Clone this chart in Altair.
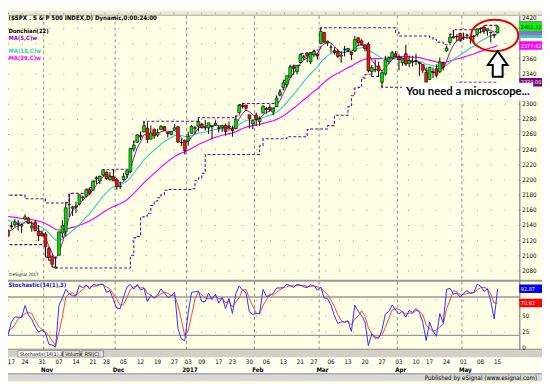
import altair as alt
import pandas as pd

# ---------------- data ----------------
trade_dates = [
    "2016-08-19", "2016-08-22", "2016-08-23", "2016-08-24", "2016-08-25", "2016-08-26", "2016-08-29", "2016-08-30", "2016-08-31",
    "2016-09-01", "2016-09-02", "2016-09-06", "2016-09-07", "2016-09-08", "2016-09-09", "2016-09-12", "2016-09-13", "2016-09-14",
    "2016-09-15", "2016-09-16", "2016-09-19", "2016-09-20", "2016-09-21", "2016-09-22", "2016-09-23", "2016-09-26", "2016-09-27",
    "2016-09-28", "2016-09-29", "2016-09-30", "2016-10-03", "2016-10-04", "2016-10-05", "2016-10-06", "2016-10-07", "2016-10-10",
    "2016-10-11", "2016-10-12", "2016-10-13", "2016-10-14", "2016-10-17", "2016-10-18", "2016-10-19", "2016-10-20", "2016-10-21",
    "2016-10-24", "2016-10-25", "2016-10-26", "2016-10-27", "2016-10-28", "2016-10-31", "2016-11-01", "2016-11-02", "2016-11-03",
    "2016-11-04", "2016-11-07", "2016-11-08", "2016-11-09", "2016-11-10", "2016-11-11", "2016-11-14", "2016-11-15", "2016-11-16",
    "2016-11-17", "2016-11-18", "2016-11-21", "2016-11-22", "2016-11-23", "2016-11-25", "2016-11-28", "2016-11-29", "2016-11-30",
    "2016-12-01", "2016-12-02", "2016-12-05", "2016-12-06", "2016-12-07", "2016-12-08", "2016-12-09", "2016-12-12", "2016-12-13",
    "2016-12-14", "2016-12-15", "2016-12-16", "2016-12-19", "2016-12-20", "2016-12-21", "2016-12-22", "2016-12-23", "2016-12-27",
    "2016-12-28", "2016-12-29", "2016-12-30", "2017-01-03", "2017-01-04", "2017-01-05", "2017-01-06", "2017-01-09", "2017-01-10",
    "2017-01-11", "2017-01-12", "2017-01-13", "2017-01-17", "2017-01-18", "2017-01-19", "2017-01-20", "2017-01-23", "2017-01-24",
    "2017-01-25", "2017-01-26", "2017-01-27", "2017-01-30", "2017-01-31", "2017-02-01", "2017-02-02", "2017-02-03", "2017-02-06",
    "2017-02-07", "2017-02-08", "2017-02-09", "2017-02-10", "2017-02-13", "2017-02-14", "2017-02-15", "2017-02-16", "2017-02-17",
    "2017-02-21", "2017-02-22", "2017-02-23", "2017-02-24", "2017-02-27", "2017-02-28", "2017-03-01", "2017-03-02", "2017-03-03",
    "2017-03-06", "2017-03-07", "2017-03-08", "2017-03-09", "2017-03-10", "2017-03-13", "2017-03-14", "2017-03-15", "2017-03-16",
    "2017-03-17", "2017-03-20", "2017-03-21", "2017-03-22", "2017-03-23", "2017-03-24", "2017-03-27", "2017-03-28", "2017-03-29",
    "2017-03-30", "2017-03-31", "2017-04-03", "2017-04-04", "2017-04-05", "2017-04-06", "2017-04-07", "2017-04-10", "2017-04-11",
    "2017-04-12", "2017-04-13", "2017-04-17", "2017-04-18", "2017-04-19", "2017-04-20", "2017-04-21", "2017-04-24", "2017-04-25",
    "2017-04-26", "2017-04-27", "2017-04-28", "2017-05-01", "2017-05-02", "2017-05-03", "2017-05-04", "2017-05-05", "2017-05-08",
    "2017-05-09", "2017-05-10", "2017-05-11", "2017-05-12", "2017-05-15",
]
opens = [
    2180.5, 2181.6, 2187.8, 2185.1, 2173.3, 2175.1, 2170.2, 2179.5, 2173.6,
    2171.3, 2177.5, 2181.6, 2185.2, 2182.8, 2169.1, 2120.9, 2146.0, 2127.9,
    2125.4, 2146.5, 2143.9, 2145.9, 2144.6, 2170.9, 2173.3, 2158.5, 2146.0,
    2161.9, 2168.9, 2156.5, 2164.3, 2163.4, 2155.2, 2158.2, 2164.2, 2160.4,
    2161.4, 2137.7, 2130.3, 2139.7, 2132.9, 2138.3, 2140.8, 2142.5, 2139.4,
    2148.5, 2149.7, 2136.9, 2144.1, 2132.2, 2129.8, 2128.7, 2109.4, 2098.8,
    2083.8, 2100.6, 2129.9, 2131.6, 2167.5, 2162.7, 2165.6, 2168.3, 2177.5,
    2178.6, 2186.9, 2186.4, 2201.6, 2198.6, 2206.3, 2210.2, 2200.8, 2204.3,
    2200.2, 2191.1, 2200.6, 2207.3, 2210.7, 2241.1, 2249.7, 2258.8, 2263.3,
    2268.4, 2253.8, 2266.8, 2259.2, 2266.5, 2270.5, 2262.9, 2260.3, 2266.2,
    2270.2, 2249.5, 2251.6, 2251.6, 2261.6, 2268.2, 2271.1, 2273.6, 2269.0,
    2268.6, 2271.1, 2272.7, 2269.1, 2269.1, 2271.9, 2270.0, 2267.8, 2267.9,
    2288.9, 2298.6, 2299.0, 2286.0, 2274.0, 2285.6, 2276.7, 2288.5, 2294.3,
    2295.9, 2289.6, 2296.7, 2312.3, 2321.7, 2326.1, 2335.6, 2349.6, 2343.0,
    2354.9, 2361.1, 2367.5, 2355.7, 2365.2, 2366.1, 2380.1, 2394.8, 2380.9,
    2375.2, 2370.7, 2369.8, 2363.5, 2372.5, 2371.6, 2368.6, 2370.3, 2387.7,
    2383.7, 2378.2, 2379.3, 2343.0, 2345.1, 2350.4, 2329.1, 2339.8, 2356.5,
    2361.3, 2366.6, 2362.3, 2354.8, 2366.6, 2353.8, 2356.6, 2357.2, 2355.0,
    2352.2, 2342.0, 2332.6, 2342.5, 2346.8, 2342.7, 2354.7, 2370.3, 2381.5,
    2389.0, 2389.7, 2393.7, 2388.5, 2391.1, 2386.5, 2389.8, 2392.4, 2399.9,
    2401.6, 2396.8, 2394.8, 2392.4, 2394.0,
]
highs = [
    2185.0, 2185.2, 2193.4, 2186.7, 2179.0, 2187.9, 2183.5, 2182.3, 2173.8,
    2173.6, 2184.9, 2186.6, 2187.9, 2184.9, 2169.1, 2163.3, 2146.0, 2141.3,
    2151.3, 2146.5, 2153.6, 2150.8, 2165.1, 2180.0, 2173.8, 2158.5, 2161.1,
    2172.4, 2172.7, 2175.3, 2164.3, 2165.5, 2163.9, 2162.9, 2165.9, 2169.6,
    2161.6, 2145.4, 2138.2, 2149.2, 2135.6, 2144.4, 2148.4, 2147.2, 2142.6,
    2154.8, 2151.4, 2145.7, 2147.1, 2140.7, 2133.3, 2131.5, 2111.8, 2102.6,
    2099.1, 2132.0, 2146.9, 2170.1, 2182.3, 2165.9, 2171.4, 2180.8, 2179.2,
    2188.1, 2189.9, 2198.7, 2204.8, 2204.7, 2213.4, 2211.1, 2210.5, 2214.1,
    2202.6, 2197.9, 2209.4, 2212.8, 2241.6, 2251.7, 2259.8, 2264.0, 2277.5,
    2276.2, 2272.1, 2268.1, 2267.5, 2272.6, 2271.2, 2263.2, 2263.8, 2273.8,
    2271.3, 2254.5, 2253.6, 2263.9, 2272.8, 2271.5, 2282.1, 2275.5, 2279.3,
    2275.3, 2271.8, 2278.7, 2272.1, 2272.0, 2274.3, 2277.0, 2271.8, 2284.6,
    2299.6, 2301.0, 2299.0, 2286.0, 2279.1, 2289.1, 2284.0, 2298.3, 2296.2,
    2299.4, 2295.9, 2311.1, 2319.2, 2331.6, 2337.6, 2351.3, 2351.3, 2351.2,
    2366.7, 2365.1, 2368.3, 2367.3, 2371.5, 2367.8, 2401.0, 2394.8, 2383.9,
    2378.8, 2375.1, 2373.1, 2369.1, 2376.9, 2374.4, 2368.6, 2390.0, 2388.1,
    2385.7, 2379.0, 2381.9, 2351.8, 2358.9, 2356.2, 2344.9, 2363.8, 2363.4,
    2370.4, 2370.3, 2365.9, 2360.5, 2378.4, 2364.2, 2363.8, 2366.4, 2355.2,
    2352.7, 2348.3, 2349.1, 2348.4, 2352.6, 2361.4, 2356.2, 2377.0, 2392.5,
    2398.2, 2392.1, 2393.7, 2394.5, 2392.9, 2389.8, 2391.4, 2399.3, 2401.4,
    2404.0, 2399.7, 2395.7, 2392.4, 2404.05,
]
lows = [
    2175.1, 2175.9, 2186.8, 2171.3, 2169.7, 2160.4, 2170.2, 2170.4, 2161.4,
    2157.1, 2173.6, 2175.1, 2179.1, 2177.9, 2127.8, 2119.1, 2119.9, 2119.6,
    2122.4, 2131.2, 2135.9, 2139.2, 2139.6, 2170.9, 2163.0, 2145.0, 2141.6,
    2151.8, 2145.2, 2156.5, 2154.8, 2144.0, 2155.2, 2150.3, 2144.9, 2160.4,
    2128.8, 2132.8, 2114.7, 2132.7, 2124.4, 2135.5, 2138.2, 2133.4, 2130.1,
    2146.9, 2141.9, 2131.6, 2132.5, 2119.4, 2125.5, 2097.9, 2094.0, 2085.2,
    2083.8, 2100.6, 2123.6, 2125.4, 2151.2, 2152.5, 2156.1, 2166.4, 2172.2,
    2176.6, 2180.4, 2186.4, 2194.5, 2194.5, 2206.3, 2200.4, 2199.0, 2198.8,
    2187.4, 2188.4, 2199.0, 2202.5, 2208.9, 2237.6, 2249.2, 2252.4, 2263.3,
    2248.4, 2253.8, 2254.2, 2256.8, 2266.5, 2265.2, 2256.1, 2258.8, 2266.2,
    2249.1, 2244.6, 2233.6, 2245.1, 2261.6, 2260.5, 2264.1, 2268.0, 2265.3,
    2260.8, 2254.3, 2271.5, 2262.8, 2263.4, 2258.4, 2265.0, 2257.0, 2266.7,
    2288.9, 2294.1, 2291.6, 2268.0, 2267.2, 2271.7, 2271.7, 2287.9, 2287.6,
    2290.2, 2285.4, 2296.6, 2311.1, 2321.4, 2322.2, 2334.8, 2338.9, 2339.6,
    2354.9, 2358.3, 2355.1, 2352.9, 2361.9, 2359.0, 2380.1, 2380.2, 2376.9,
    2368.0, 2365.5, 2361.0, 2354.5, 2363.0, 2368.5, 2358.2, 2368.9, 2377.2,
    2377.6, 2369.7, 2341.9, 2336.5, 2342.1, 2335.7, 2322.3, 2337.6, 2353.3,
    2358.6, 2362.6, 2344.7, 2350.7, 2350.5, 2348.9, 2349.7, 2351.5, 2337.3,
    2341.2, 2329.0, 2332.5, 2334.5, 2335.1, 2340.9, 2344.5, 2369.2, 2381.2,
    2386.8, 2382.7, 2382.4, 2384.8, 2385.8, 2379.8, 2380.3, 2389.2, 2393.4,
    2392.8, 2390.4, 2381.7, 2387.2, 2394.0,
]
closes = [
    2183.9, 2182.6, 2186.9, 2175.4, 2172.5, 2169.0, 2180.4, 2176.1, 2171.0,
    2170.9, 2180.0, 2186.5, 2186.2, 2181.3, 2127.8, 2159.0, 2127.0, 2125.8,
    2147.3, 2139.2, 2139.1, 2139.8, 2163.1, 2177.2, 2164.7, 2146.1, 2159.9,
    2171.4, 2151.1, 2168.3, 2161.2, 2150.5, 2159.7, 2160.8, 2153.7, 2163.7,
    2136.7, 2139.2, 2132.6, 2133.0, 2126.5, 2139.6, 2144.3, 2141.3, 2141.2,
    2151.3, 2143.2, 2139.4, 2133.0, 2126.4, 2126.2, 2111.7, 2097.9, 2088.7,
    2085.2, 2131.5, 2139.6, 2163.3, 2167.5, 2164.5, 2164.2, 2180.4, 2176.9,
    2187.1, 2181.9, 2198.2, 2202.9, 2204.7, 2213.4, 2201.7, 2204.7, 2198.8,
    2191.1, 2192.0, 2204.7, 2212.2, 2241.4, 2246.2, 2259.5, 2257.0, 2271.7,
    2253.3, 2262.0, 2258.1, 2262.5, 2270.8, 2265.2, 2261.0, 2263.8, 2268.9,
    2249.9, 2249.3, 2238.8, 2257.8, 2270.8, 2269.0, 2277.0, 2268.9, 2268.9,
    2275.3, 2270.4, 2274.6, 2267.9, 2271.9, 2263.7, 2271.3, 2265.2, 2280.1,
    2298.4, 2296.7, 2294.7, 2280.9, 2278.9, 2279.6, 2280.9, 2297.4, 2292.6,
    2293.1, 2294.7, 2307.9, 2316.1, 2328.3, 2337.6, 2349.3, 2347.2, 2351.2,
    2365.4, 2362.8, 2363.8, 2367.3, 2369.8, 2363.6, 2396.0, 2381.9, 2383.1,
    2375.3, 2368.4, 2363.0, 2364.9, 2372.6, 2373.5, 2365.5, 2385.3, 2381.4,
    2378.3, 2373.5, 2344.0, 2348.5, 2346.0, 2344.0, 2341.6, 2358.6, 2361.1,
    2368.1, 2362.7, 2358.8, 2360.2, 2353.0, 2357.5, 2355.5, 2357.2, 2353.8,
    2344.9, 2329.0, 2349.0, 2342.2, 2338.2, 2355.8, 2348.7, 2374.2, 2388.6,
    2387.5, 2388.8, 2384.2, 2388.3, 2391.2, 2388.1, 2389.5, 2399.3, 2399.4,
    2396.9, 2399.6, 2394.66, 2390.9, 2402.32,
]

tick_dates = [
    "2016-10-17", "2016-10-24", "2016-10-31", "2016-11-07", "2016-11-14", "2016-11-21", "2016-11-28",
    "2016-12-05", "2016-12-12", "2016-12-19", "2016-12-27", "2017-01-03", "2017-01-09", "2017-01-17",
    "2017-01-23", "2017-01-30", "2017-02-06", "2017-02-13", "2017-02-21", "2017-02-27", "2017-03-06",
    "2017-03-13", "2017-03-20", "2017-03-27", "2017-04-03", "2017-04-10", "2017-04-17", "2017-04-24",
    "2017-05-01", "2017-05-08", "2017-05-15",
]
tick_labels = ["17", "24", "31", "07", "14", "21", "28", "05", "12", "19", "27", "03", "09", "17", "23", "30",
               "06", "13", "21", "27", "06", "13", "20", "27", "03", "10", "17", "24", "01", "08", "15"]
month_dates = ["2016-11-01", "2016-12-01", "2017-01-03", "2017-02-01", "2017-03-01", "2017-04-03", "2017-05-01"]
month_labels = ["Nov", "Dec", "2017", "Feb", "Mar", "Apr", "May"]
# price labels visible on the right axis (2400, 2380 and 2320 sit under the value boxes)
price_ticks = [2080, 2100, 2120, 2140, 2160, 2180, 2200, 2220, 2240, 2260, 2280, 2300,
               2340, 2360, 2420]
price_grid = [2080, 2100, 2120, 2140, 2160, 2180, 2200, 2220, 2240, 2260, 2280, 2300,
              2320, 2340, 2360, 2380, 2400, 2420]
stoch_ticks = [50, 25, 0]
stoch_grid = [75, 50, 25]
stoch_levels = [80, 20]

# ---------------- layout constants ----------------
W, H = 542, 376
X_DOM = [0, 157.06]
P_DOM = [1934.4, 2423.3]
S_DOM = [-51.5, 526.9]
FONT = "Liberation Sans Narrow, DejaVu Sans Condensed, Liberation Sans"
BG = "#FFFFE6"

first = trade_dates.index("2016-10-17")
last_idx = len(trade_dates) - 1 - first

df = pd.DataFrame({"O": opens, "H": highs, "L": lows, "C": closes})
df["idx"] = [i - first for i in range(len(trade_dates))]


def XQ(f):
    return alt.X(f, type="quantitative", axis=None,
                 scale=alt.Scale(domain=X_DOM, nice=False, zero=False))


def PY(f):
    return alt.Y(f, type="quantitative", axis=None,
                 scale=alt.Scale(domain=P_DOM, nice=False, zero=False))


def SY(f):
    return alt.Y(f, type="quantitative", axis=None,
                 scale=alt.Scale(domain=S_DOM, nice=False, zero=False))


one = alt.Chart(pd.DataFrame({"a": [0]}))


def box(x1, x2, y1, y2, color, **kw):
    return one.mark_rect(color=color, **kw).encode(
        x=alt.value(x1), x2=alt.value(x2), y=alt.value(y1), y2=alt.value(y2))


def hline(y, x1, x2, color, w=1, **kw):
    return one.mark_rule(color=color, strokeWidth=w, **kw).encode(
        x=alt.value(x1), x2=alt.value(x2), y=alt.value(y))


def vline(x, y1, y2, color, w=1, **kw):
    return one.mark_rule(color=color, strokeWidth=w, **kw).encode(
        x=alt.value(x), y=alt.value(y1), y2=alt.value(y2))


def label(txt, x, y, color="black", size=6.5, weight="normal", align="left", font=FONT):
    return one.mark_text(text=txt, align=align, baseline="middle", fontSize=size,
                         fontWeight=weight, color=color, font=font).encode(
        x=alt.value(x), y=alt.value(y))


srt = [alt.SortField("idx")]
# weighted moving averages (weights 1..n) via window sums, Donchian(22), Stochastic(14,1,3)
calc = (alt.Chart(df)
        .transform_calculate(ci="datum.C*datum.idx")
        .transform_window(a5="sum(C)", b5="sum(ci)", frame=[-4, 0], sort=srt)
        .transform_window(a18="sum(C)", b18="sum(ci)", frame=[-17, 0], sort=srt)
        .transform_window(a39="sum(C)", b39="sum(ci)", frame=[-38, 0], sort=srt)
        .transform_calculate(ma5="(datum.b5-(datum.idx-5)*datum.a5)/15",
                             ma18="(datum.b18-(datum.idx-18)*datum.a18)/171",
                             ma39="(datum.b39-(datum.idx-39)*datum.a39)/780")
        .transform_window(dch="max(H)", dcl="min(L)", frame=[-21, 0], sort=srt)
        .transform_window(hh="max(H)", ll="min(L)", frame=[-13, 0], sort=srt)
        .transform_calculate(k="100*(datum.C-datum.ll)/(datum.hh-datum.ll)")
        .transform_window(d="mean(k)", frame=[-2, 0], sort=srt))
vis = calc.transform_filter("datum.idx >= -1")
lastrow = calc.transform_filter(f"datum.idx == {last_idx}")

layers = []

# backgrounds / chrome
layers.append(box(0, W, 0, 4, "#ECE9D8"))
layers.append(hline(4.5, 0, W, "#A0A0A0", 1))
layers.append(box(0, W, 344, 352, "#D4D0C8"))
layers.append(box(0, W, 352, 369, "#FFFFF2"))
layers.append(box(0, W, 369, H, "#D8D8D8"))
layers.append(hline(368.5, 0, W, "#808080", 1))

# grids
layers.append(alt.Chart(pd.DataFrame({"p": price_grid})).mark_rule(
    color="#8C8C8C", strokeWidth=1, strokeDash=[1, 13]).encode(y=PY("p"), x=alt.value(0), x2=alt.value(519)))
layers.append(alt.Chart(pd.DataFrame({"s": stoch_grid})).mark_rule(
    color="#8C8C8C", strokeWidth=1, strokeDash=[1, 13]).encode(y=SY("s"), x=alt.value(0), x2=alt.value(519)))
layers.append(alt.Chart(pd.DataFrame({"s": stoch_levels})).mark_rule(
    color="#9A9A9A", strokeWidth=1.3).encode(y=SY("s"), x=alt.value(0), x2=alt.value(519)))
mdf = pd.DataFrame({"m": [trade_dates.index(d) - first - 0.5 for d in month_dates],
                    "mc": [trade_dates.index(d) - first + 0.5 for d in month_dates],
                    "lab": month_labels})
layers.append(alt.Chart(mdf).mark_rule(color="#8C8C8C", strokeWidth=1, strokeDash=[3, 3]).encode(
    x=XQ("m"), y=alt.value(5), y2=alt.value(344)))

# Donchian channel and moving averages
layers.append(vis.mark_line(color="#800080", strokeWidth=1.1, strokeDash=[3, 2], interpolate="step-after")
              .encode(x=XQ("idx"), y=PY("dch")))
layers.append(vis.mark_line(color="#800080", strokeWidth=1.1, strokeDash=[3, 2], interpolate="step-after")
              .encode(x=XQ("idx"), y=PY("dcl")))
layers.append(vis.mark_line(color="#FF00FF", strokeWidth=1.2).encode(x=XQ("idx"), y=PY("ma39")))
layers.append(vis.mark_line(color="#33CCCC", strokeWidth=1.1).encode(x=XQ("idx"), y=PY("ma18")))
layers.append(vis.mark_line(color="#8B1A9B", strokeWidth=1).encode(x=XQ("idx"), y=PY("ma5")))

# candles
layers.append(vis.mark_rule(color="black", strokeWidth=1).encode(
    x=XQ("idx"), y=PY("L"), y2=alt.Y2("H")))
layers.append(vis.transform_calculate(x1="datum.idx-0.42", x2="datum.idx+0.42")
              .mark_rect(stroke="black", strokeWidth=0.6)
              .encode(x=XQ("x1"), x2=alt.X2("x2"), y=PY("O"), y2=alt.Y2("C"),
                      color=alt.condition("datum.C >= datum.O", alt.value("#00E400"), alt.value("#FF1010"))))

# stochastic
layers.append(vis.mark_line(color="#FF4040", strokeWidth=1).encode(x=XQ("idx"), y=SY("d")))
layers.append(vis.mark_line(color="#3030FF", strokeWidth=1).encode(x=XQ("idx"), y=SY("k")))

# panel separators
layers.append(hline(274, 0, W, "#9A9A9A", 2))
layers.append(vline(519.5, 5, 344, "#808080", 1.2))
layers.append(hline(343.5, 0, W, "#808080", 1))

# right axis labels
layers.append(alt.Chart(pd.DataFrame({"p": price_ticks})).transform_calculate(ly="min(datum.p, 2414)")
              .mark_text(align="left", baseline="middle", fontSize=6.3, font=FONT, color="black")
              .encode(x=alt.value(522), y=PY("ly"), text=alt.Text("p:Q")))
layers.append(alt.Chart(pd.DataFrame({"s": stoch_ticks}))
              .mark_text(align="left", baseline="middle", fontSize=6.3, font=FONT, color="black")
              .encode(x=alt.value(522), y=SY("s"), text=alt.Text("s:Q")))

RECT = "M -11 -3.4 L 11 -3.4 L 11 3.4 L -11 3.4 Z"


def valbox(field, fill, tcolor, yf, with_text=True):
    out = [lastrow.mark_point(shape=RECT, size=4, filled=True, fill=fill, stroke=fill, opacity=1).encode(
        x=alt.value(531), y=yf(field))]
    if with_text:
        out.append(lastrow.mark_text(align="left", baseline="middle", fontSize=5.6, font=FONT, color=tcolor)
                   .encode(x=alt.value(520.5), y=yf(field),
                           text=alt.Text(field, type="quantitative", format=".2f")))
    return out


layers += valbox("dcl", "#800080", "white", PY)
layers += valbox("ma39", "#FF00FF", "white", PY)
layers += valbox("ma18", "#33CCCC", "black", PY, with_text=False)
layers += valbox("dch", "#9B6BC8", "black", PY, with_text=False)
layers += valbox("ma5", "#9B6BC8", "black", PY, with_text=False)
layers += valbox("C", "#00FF00", "black", PY)
layers += valbox("d", "#FF0000", "white", SY)
layers += valbox("k", "#0000FF", "white", SY)

# left legend texts
layers.append(label("($SPX . S & P 500 INDEX,D) Dynamic,0:00:24:00", 0.5, 7, size=6.2, weight="bold"))
layers.append(label("Donchian(22)", 0.5, 21, size=6, weight="bold"))
layers.append(label("MA(5,C)w", 0.5, 28, size=6, color="#9400D3", weight="bold"))
layers.append(label("MA(18,C)w", 0.5, 41, size=6, color="#33CCCC", weight="bold"))
layers.append(label("MA(39,C)w", 0.5, 47.5, size=6, color="#FF00FF", weight="bold"))
layers.append(label("\u00a9eSignal 2017", 0.5, 268, size=4.5))
layers.append(label("Stochastic(14(1),3)", 0.5, 278, size=6, color="#2020E0", weight="bold"))

# tab bar
layers.append(box(10, 55, 345, 351.5, "white", stroke="#606060", strokeWidth=0.6))
layers.append(label("Stochastic(14(1),3)", 12, 348.3, size=5.3))
layers.append(box(56, 73, 345, 351.5, "#E4E1D8", stroke="#606060", strokeWidth=0.6))
layers.append(label("Volume", 58, 348.3, size=5.3))
layers.append(box(75, 97, 345, 351.5, "#E4E1D8", stroke="#606060", strokeWidth=0.6))
layers.append(label("RSI(C)", 78, 348.3, size=5.3))

# date axis
tdf = pd.DataFrame({"t": [trade_dates.index(d) - first for d in tick_dates], "lab": tick_labels})
layers.append(alt.Chart(tdf).transform_calculate(tt="max(datum.t, 1.0)")
              .mark_text(align="center", baseline="middle", fontSize=6.3, font=FONT, color="black")
              .encode(x=XQ("tt"), y=alt.value(356.5), text="lab:N"))
layers.append(alt.Chart(mdf).mark_text(align="center", baseline="middle", fontSize=6.3, font=FONT,
                                       fontWeight="bold", color="black")
              .encode(x=XQ("mc"), y=alt.value(364.5), text="lab:N"))
layers.append(label("Published by eSignal (www.esignal.com)", 537, 372.5, size=6.3, align="right"))

# annotation
ELL = "M -24 0 A 24 16 0 1 0 24 0 A 24 16 0 1 0 -24 0 Z"
layers.append(one.mark_point(shape=ELL, size=4, filled=False, stroke="#E00000", strokeWidth=2, opacity=1)
              .encode(x=alt.value(494), y=alt.value(25)))
ARROW = "M 0 -13 L 10 1 L 5 1 L 5 13 L -5 13 L -5 1 L -10 1 Z"
layers.append(one.mark_point(shape=ARROW, size=4, filled=True, fill="white", stroke="black",
                             strokeWidth=2, opacity=1)
              .encode(x=alt.value(497), y=alt.value(54)))
layers.append(box(400, 533, 73, 91, "white"))
layers.append(label("You need a microscope...", 404, 82.5, size=11.5, weight="bold", font="Lato"))

chart = (alt.layer(*layers)
         .resolve_scale(y="independent")
         .properties(width=W, height=H, autosize=alt.AutoSizeParams(type="none"), padding=0,
                     background=BG)
         .configure_view(stroke=None))

chart.save("out.html", embed_options={"renderer": "svg", "actions": False})
